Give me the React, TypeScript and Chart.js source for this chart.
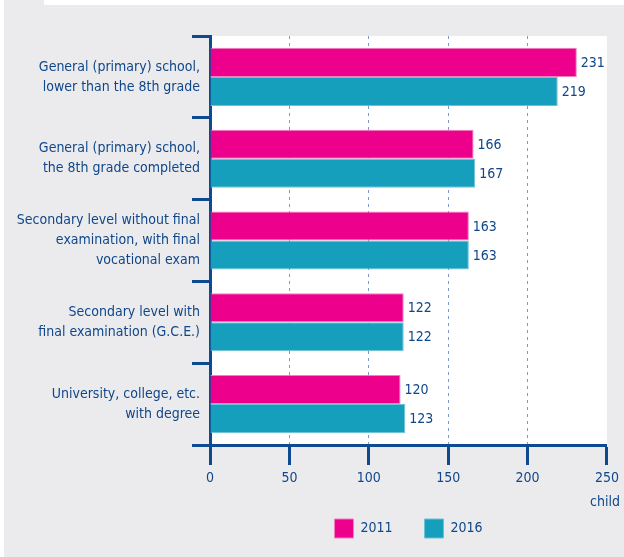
import React, { useEffect, useRef } from "react";
import { Chart, registerables } from "chart.js";

Chart.register(...registerables);

const categories: string[][] = [
  ["General (primary) school,", "lower than the 8th grade"],
  ["General (primary) school,", "the 8th grade completed"],
  ["Secondary level without final", "examination, with final", "vocational exam"],
  ["Secondary level with", "final examination (G.C.E.)"],
  ["University, college, etc.", "with degree"],
];
const values2011 = [231, 166, 163, 122, 120];
const values2016 = [219, 167, 163, 122, 123];
const seriesLabels = ["2011", "2016"];
const xTickValues = [0, 50, 100, 150, 200, 250];
const unitLabel = "child";

const FONT = "'DejaVu Sans Condensed', 'Liberation Sans Narrow', 'Liberation Sans', sans-serif";
const FS = 14;
const NAVY = "#0d4a8f";
const TEXT = "#0f4789";
const PINK = "#ec008c";
const TEAL = "#169fbd";

export default function App() {
  const ref = useRef<HTMLCanvasElement | null>(null);

  useEffect(() => {
    if (!ref.current) return;
    Chart.defaults.font.family = FONT;

    const bgPlugin = {
      id: "plotBg",
      beforeDraw(chart: any) {
        const { ctx, chartArea } = chart;
        ctx.save();
        ctx.fillStyle = "#ffffff";
        ctx.fillRect(chartArea.left, chartArea.top, chartArea.right - chartArea.left, chartArea.bottom - chartArea.top);
        ctx.restore();
      },
    };

    const labelPlugin = {
      id: "valueLabels",
      afterDatasetsDraw(chart: any) {
        const { ctx } = chart;
        ctx.save();
        ctx.font = `${FS}px ${FONT}`;
        ctx.fillStyle = TEXT;
        ctx.textAlign = "left";
        ctx.textBaseline = "middle";
        chart.data.datasets.forEach((ds: any, di: number) => {
          const meta = chart.getDatasetMeta(di);
          meta.data.forEach((el: any, i: number) => {
            ctx.fillText(String(ds.data[i]), el.x + 4, el.y + 1);
          });
        });
        const xs = chart.scales.x;
        ctx.textAlign = "right";
        ctx.fillText(unitLabel, xs.getPixelForValue(xTickValues[xTickValues.length - 1]) + 13, xs.top + 57);
        ctx.restore();
      },
    };

    const chart = new Chart(ref.current, {
      type: "bar",
      data: {
        labels: categories,
        datasets: [
          {
            label: seriesLabels[0],
            data: values2011,
            backgroundColor: PINK,
            borderColor: "#f27fbf",
            borderWidth: 1,
            categoryPercentage: 0.71,
            barPercentage: 1,
          },
          {
            label: seriesLabels[1],
            data: values2016,
            backgroundColor: TEAL,
            borderColor: "#6cc3d8",
            borderWidth: 1,
            categoryPercentage: 0.71,
            barPercentage: 1,
          },
        ],
      },
      options: {
        indexAxis: "y",
        responsive: false,
        animation: false,
        layout: { padding: { top: 36, right: 17, left: 0, bottom: 9 } },
        scales: {
          x: {
            type: "linear",
            min: 0,
            max: 250,
            afterBuildTicks: (scale: any) => {
              scale.ticks = xTickValues.map((v) => ({ value: v }));
            },
            afterFit: (scale: any) => {
              scale.height = 42;
            },
            grid: {
              color: (c: any) =>
                c.tick && (c.tick.value === 0 || c.tick.value === 250) ? "rgba(0,0,0,0)" : "#7d98cc",
              lineWidth: 1,
              tickColor: NAVY,
              tickWidth: 3,
              tickLength: 20,
              tickBorderDash: [],
            } as any,
            border: { color: NAVY, width: 3, dash: [3, 4] } as any,
            ticks: {
              color: TEXT,
              font: { size: FS, family: FONT },
              padding: 5,
              maxRotation: 0,
            },
          },
          y: {
            type: "category",
            offset: true,
            afterFit: (scale: any) => {
              scale.width = 210;
            },
            grid: {
              offset: true,
              drawOnChartArea: false,
              drawTicks: true,
              tickLength: 18,
              tickWidth: 3,
              tickColor: NAVY,
              color: NAVY,
            } as any,
            border: { color: NAVY, width: 3 },
            ticks: {
              color: TEXT,
              font: { size: FS, family: FONT, lineHeight: 20 / FS },
              padding: -8,
            },
          },
        },
        plugins: {
          legend: {
            position: "bottom",
            fullSize: false,
            labels: {
              boxWidth: 19,
              boxHeight: 19,
              padding: 32,
              color: TEXT,
              font: { size: FS, family: FONT },
            },
          },
          tooltip: { enabled: false },
        },
      },
      plugins: [bgPlugin, labelPlugin],
    } as any);

    return () => chart.destroy();
  }, []);

  return (
    <div style={{ position: "fixed", left: 0, top: 0, width: 624, height: 557, background: "#ffffff", overflow: "hidden" }}>
      <div style={{ position: "absolute", left: 4, top: 5, right: 0, bottom: 0, background: "#ebebee" }} />
      <div style={{ position: "absolute", left: 4, top: 0, width: 40, height: 5, background: "#ebebee" }} />
      <canvas ref={ref} width={624} height={557} style={{ position: "absolute", left: 0, top: 0, width: 624, height: 557 }} />
    </div>
  );
}
